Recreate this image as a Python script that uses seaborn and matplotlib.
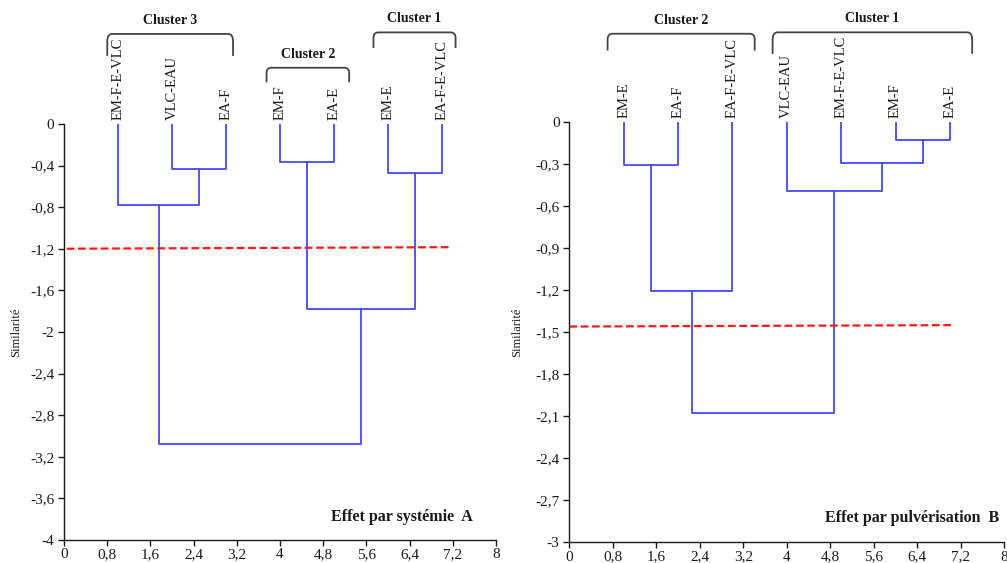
import numpy as np
import pandas as pd
import matplotlib
matplotlib.use("Agg")
import matplotlib.pyplot as plt
import seaborn as sns
from matplotlib.path import Path
from matplotlib.patches import PathPatch
from matplotlib.ticker import FixedLocator, FuncFormatter

# ---------------- data ----------------
# Panel A : Effet par systémie
leaves_A = ["EM-F-E-VLC", "VLC-EAU", "EA-F", "EM-F", "EA-E", "EM-E", "EA-F-E-VLC"]
merge_left_A = [1, 3, 5, 0, 8, 10]
merge_right_A = [2, 4, 6, 7, 9, 11]
merge_height_A = [-0.43, -0.37, -0.47, -0.78, -1.78, -3.08]
cut_A = [-1.20, -1.185]
clusters_A = ["Cluster 3", "Cluster 2", "Cluster 1"]
yticks_A = [0, -0.4, -0.8, -1.2, -1.6, -2, -2.4, -2.8, -3.2, -3.6, -4]
title_A = "Effet par systémie  A"

# Panel B : Effet par pulvérisation
leaves_B = ["EM-E", "EA-F", "EA-F-E-VLC", "VLC-EAU", "EM-F-E-VLC", "EM-F", "EA-E"]
merge_left_B = [0, 5, 4, 3, 7, 11]
merge_right_B = [1, 6, 8, 9, 2, 10]
merge_height_B = [-0.31, -0.13, -0.29, -0.49, -1.205, -2.08]
cut_B = [-1.46, -1.45]
clusters_B = ["Cluster 2", "Cluster 1"]
yticks_B = [0, -0.3, -0.6, -0.9, -1.2, -1.5, -1.8, -2.1, -2.4, -2.7, -3]
title_B = "Effet par pulvérisation  B"

xticks = [0, 0.8, 1.6, 2.4, 3.2, 4, 4.8, 5.6, 6.4, 7.2, 8]

# ---------------- layout (positions / styles) ----------------
# bracket: (x_left, x_right, y_top, y_end) in data units
brackets_A = [(0.80, 3.13, 0.865, 0.654), (3.75, 5.28, 0.54, 0.40), (5.73, 7.25, 0.88, 0.73)]
brackets_B = [(0.705, 3.41, 0.63, 0.51), (3.74, 7.41, 0.64, 0.486)]
cut_x_A = [0.05, 7.15]
cut_x_B = [0.0, 7.07]

BLUE = "#4646ff"
RED = "#ff1a1a"
TXT = "#1a1a1a"

sns.set_style("ticks")
plt.rcParams["font.family"] = ["Liberation Serif", "DejaVu Serif"]
plt.rcParams["axes.edgecolor"] = TXT
plt.rcParams["xtick.color"] = TXT
plt.rcParams["ytick.color"] = TXT

fig = plt.figure(figsize=(10.07, 5.63), dpi=100)
ax_A = fig.add_axes([0.0636, 0.0409, 0.429, 0.739])
ax_B = fig.add_axes([0.5653, 0.0368, 0.432, 0.7465])


def fmt(v, pos):
    if abs(v) < 1e-9:
        return "0"
    s = f"{v:.1f}"
    if s.endswith(".0"):
        s = s[:-2]
    return s.replace(".", ",")


def segments(leaves, left, right, heights):
    n = len(leaves)
    pos = {i: i + 1.0 for i in range(n)}
    hgt = {i: 0.0 for i in range(n)}
    rows = []
    for k, (a, b, h) in enumerate(zip(left, right, heights)):
        node = n + k
        pos[node] = (pos[a] + pos[b]) / 2
        hgt[node] = h
        pts = [(pos[a], hgt[a]), (pos[a], h), (pos[b], h), (pos[b], hgt[b])]
        for j, (x, y) in enumerate(pts):
            rows.append({"x": x, "y": y, "seg": k, "order": j})
    return pd.DataFrame(rows), pos


def bracket(ax, x0, x1, ytop, yend, label):
    rx = 0.09
    ry = (ytop - yend) * 0.35
    verts = [(x0, yend), (x0, ytop - ry), (x0, ytop), (x0 + rx, ytop),
             (x1 - rx, ytop), (x1, ytop), (x1, ytop - ry), (x1, yend)]
    codes = [Path.MOVETO, Path.LINETO, Path.CURVE3, Path.CURVE3,
             Path.LINETO, Path.CURVE3, Path.CURVE3, Path.LINETO]
    patch = PathPatch(Path(verts, codes), fill=False, edgecolor="#444444",
                      lw=1.3, clip_on=False)
    ax.add_patch(patch)
    ax.annotate(label, xy=((x0 + x1) / 2, ytop), xytext=(0, 5),
                textcoords="offset points", ha="center", va="bottom",
                fontsize=10, fontweight="bold", color=TXT, annotation_clip=False)


def panel(ax, leaves, left, right, heights, cut, cut_x, yticks, brackets,
          clusters, title, title_xy, ylabel_x):
    df, pos = segments(leaves, left, right, heights)
    sns.lineplot(data=df, x="x", y="y", units="seg", estimator=None, sort=False,
                 color=BLUE, lw=1.3, ax=ax)
    cdf = pd.DataFrame({"x": cut_x, "y": cut})
    sns.lineplot(data=cdf, x="x", y="y", estimator=None, sort=False, color=RED,
                 lw=1.6, dashes=False, ax=ax)
    ax.lines[-1].set_dashes((3.5, 1.6))
    ax.set_xlim(0, 8)
    ax.set_ylim(yticks[-1], 0)
    ax.xaxis.set_major_locator(FixedLocator(xticks))
    ax.yaxis.set_major_locator(FixedLocator(yticks))
    ax.xaxis.set_major_formatter(FuncFormatter(fmt))
    ax.yaxis.set_major_formatter(FuncFormatter(fmt))
    ax.tick_params(axis="both", direction="out", length=4, width=1.0,
                   labelsize=11, pad=3)
    ax.tick_params(axis="x", pad=2)
    for s in ["top", "right"]:
        ax.spines[s].set_visible(False)
    for s in ["left", "bottom"]:
        ax.spines[s].set_linewidth(1.0)
    ax.set_xlabel("")
    ax.set_ylabel("Similarité", fontsize=9, color=TXT)
    ax.yaxis.set_label_coords(ylabel_x, 0.5)
    for i, name in enumerate(leaves):
        ax.annotate(name, xy=(pos[i], 0), xytext=(0, 3), textcoords="offset points",
                    rotation=90, ha="center", va="bottom", fontsize=10.5,
                    color=TXT, annotation_clip=False)
    for (x0, x1, yt, ye), lab in zip(brackets, clusters):
        bracket(ax, x0, x1, yt, ye, lab)
    ax.text(title_xy[0], title_xy[1], title, ha="right", va="center",
            fontsize=11.5, fontweight="bold", color=TXT)
    ax.set_facecolor("white")


panel(ax_A, leaves_A, merge_left_A, merge_right_A, merge_height_A, cut_A, cut_x_A,
      yticks_A, brackets_A, clusters_A, title_A, (7.57, -3.78), -0.097)
panel(ax_B, leaves_B, merge_left_B, merge_right_B, merge_height_B, cut_B, cut_x_B,
      yticks_B, brackets_B, clusters_B, title_B, (7.9, -2.83), -0.106)

fig.savefig("out.png", dpi=100, facecolor="white")
